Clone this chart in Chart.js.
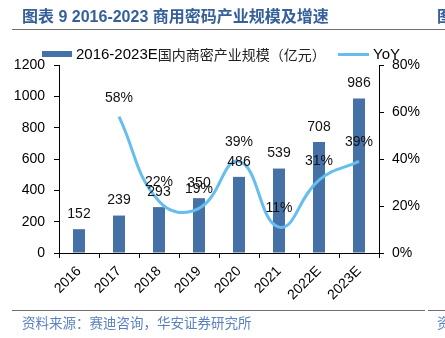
<!DOCTYPE html>
<html lang="zh">
<head>
<meta charset="utf-8">
<script src="https://cdn.jsdelivr.net/npm/chart.js@4.4.1/dist/chart.umd.min.js"></script>
<style>
  html, body { margin: 0; padding: 0; background: #fff; overflow: hidden; }
  body { width: 445px; height: 338px; position: relative; font-family: "Liberation Sans", Arial, "Noto Sans CJK SC", sans-serif; }
  #wrap { position: absolute; left: 0; top: 0; width: 445px; height: 338px; }
  .title { position: absolute; top: 7px; font-size: 16px; font-weight: bold; color: #36609A; white-space: nowrap; line-height: 20px; }
  .rule { position: absolute; height: 1.5px; background: #707070; }
  .source { position: absolute; top: 313px; font-size: 13.5px; color: #5A82BE; white-space: nowrap; line-height: 18px; font-family: "Noto Sans CJK SC", sans-serif; }
  .leg { position: absolute; top: 45px; display: flex; align-items: center; white-space: nowrap; color: #000; font-size: 15px; line-height: 18px; }
  .leg .cjk { font-family: "Noto Sans CJK SC", sans-serif; font-size: 14px; color: #222; }
  .leg i { display: inline-block; margin-right: 4px; }
</style>
</head>
<body>
<div id="wrap"><canvas id="chart"></canvas></div>

<div class="title" style="left:22px">图表 9 2016-2023 商用密码产业规模及增速</div>
<div class="title" style="left:437px">图</div>
<div class="rule" style="left:12px; top:28.5px; width:433px"></div>

<div id="legend"></div>

<div class="rule" style="left:12px; top:309.5px; width:413px"></div>
<div class="rule" style="left:428px; top:309.5px; width:17px"></div>
<div class="source" style="left:22px">资料来源：赛迪咨询，华安证券研究所</div>
<div class="source" style="left:437px">资</div>

<script>
// 年份、产业规模（亿元）、同比增速（%）
const years = ['2016', '2017', '2018', '2019', '2020', '2021', '2022E', '2023E'];
const scale = [152, 239, 293, 350, 486, 539, 708, 986];
const yoy = [null, 58, 22, 19, 39, 11, 31, 39];

const scaleLabel = '2016-2023E国内商密产业规模（亿元）';
const yoyLabel = 'YoY';

const BAR_COLOR = '#4671A7';
const LINE_COLOR = '#66BEF0';
const FONT = '"Liberation Sans", Arial, sans-serif';

// 柱顶、折线点上方的数值标签
const valueLabels = {
    id: 'valueLabels',
    afterDatasetsDraw(chart) {
        const ctx = chart.ctx;
        ctx.save();
        ctx.font = '14px ' + FONT;
        ctx.fillStyle = '#111';
        ctx.textAlign = 'center';
        ctx.textBaseline = 'middle';
        chart.data.datasets.forEach((ds, i) => {
            const meta = chart.getDatasetMeta(i);
            const isLine = ds.type === 'line';
            meta.data.forEach((el, j) => {
                const v = ds.data[j];
                if (v === null || v === undefined) return;
                const text = isLine ? v + '%' : String(v);
                ctx.fillText(text, el.x, el.y - (isLine ? 19 : 15));
            });
        });
        ctx.restore();
    }
};

const chart = new Chart(document.getElementById('chart'), {
    data: {
        labels: years,
        datasets: [
            {
                type: 'line',
                label: yoyLabel,
                data: yoy,
                yAxisID: 'y1',
                borderColor: LINE_COLOR,
                borderWidth: 3,
                tension: 0.45,
                pointRadius: 0,
                fill: false,
                order: 0
            },
            {
                type: 'bar',
                label: scaleLabel,
                data: scale,
                yAxisID: 'y',
                backgroundColor: BAR_COLOR,
                barPercentage: 0.3,
                categoryPercentage: 1,
                order: 1
            }
        ]
    },
    options: {
        responsive: true,
        maintainAspectRatio: false,
        animation: false,
        layout: { padding: { top: 65, left: 0, right: 0, bottom: 0 } },
        plugins: {
            legend: { display: false },
            tooltip: { enabled: false }
        },
        scales: {
            x: {
                afterFit: s => { s.height = 85; },
                grid: { drawOnChartArea: false, drawTicks: true, tickLength: 5, color: '#000', offset: true },
                border: { display: true, color: '#000', width: 1 },
                ticks: { color: '#000', font: { size: 14, family: FONT }, minRotation: 45, maxRotation: 45, padding: 5 }
            },
            y: {
                position: 'left',
                min: 0, max: 1200,
                afterFit: s => { s.width = 59; },
                grid: { drawOnChartArea: false, drawTicks: true, tickLength: 5, color: '#000' },
                border: { display: true, color: '#000', width: 1 },
                ticks: { stepSize: 200, color: '#000', font: { size: 14, family: FONT }, padding: 9, callback: v => String(v) }
            },
            y1: {
                position: 'right',
                min: 0, max: 80,
                afterFit: s => { s.width = 66; },
                grid: { drawOnChartArea: false, drawTicks: true, tickLength: 5, color: '#000' },
                border: { display: true, color: '#000', width: 1 },
                ticks: { stepSize: 20, color: '#000', font: { size: 14, family: FONT }, padding: 8, callback: v => v + '%' }
            }
        }
    },
    plugins: [valueLabels]
});

// 图例：由数据集生成
function renderLegend() {
    const box = document.getElementById('legend');
    const bar = chart.data.datasets.find(d => d.type === 'bar');
    const line = chart.data.datasets.find(d => d.type === 'line');

    const a = document.createElement('div');
    a.className = 'leg';
    a.style.left = '42px';
    const m = bar.label.match(/^([0-9E\-]+)(.*)$/);
    a.innerHTML = `<i style="width:30px;height:6px;background:${bar.backgroundColor}"></i>` +
        `<span>${m[1]}</span><span class="cjk">${m[2]}</span>`;
    box.appendChild(a);

    const b = document.createElement('div');
    b.className = 'leg';
    b.style.left = '338px';
    b.innerHTML = `<i style="width:31px;height:3px;background:${line.borderColor}"></i><span>${line.label}</span>`;
    box.appendChild(b);
}
renderLegend();
</script>
</body>
</html>
